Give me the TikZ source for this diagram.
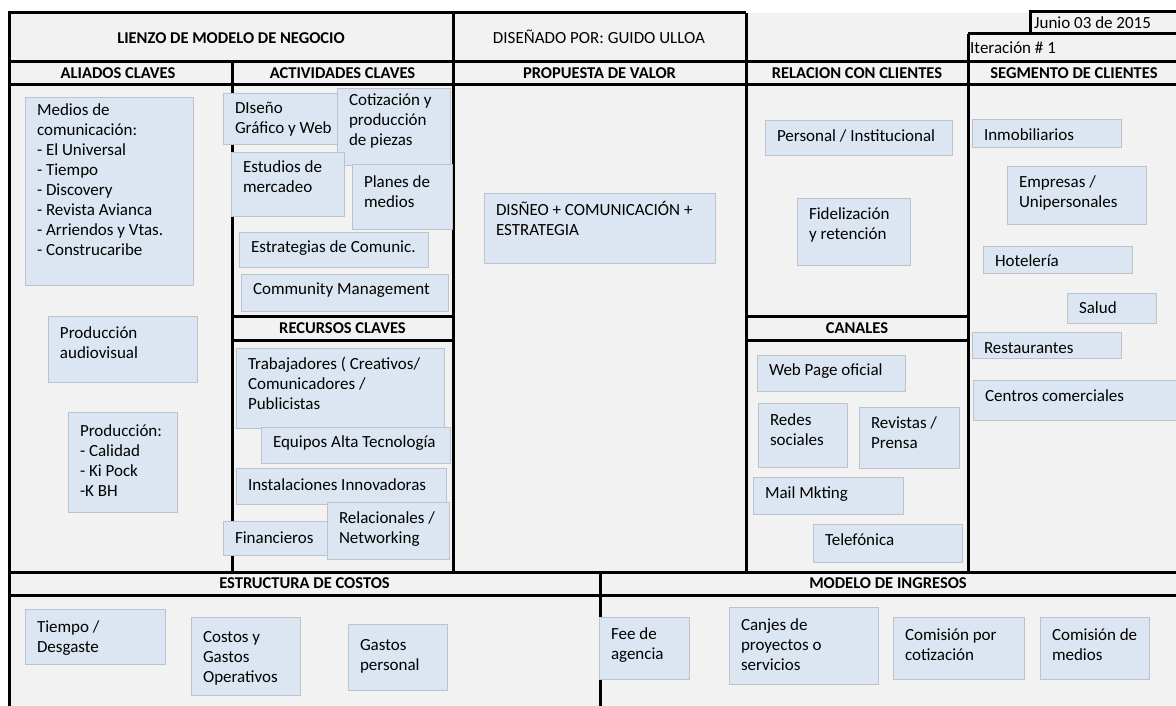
\documentclass[tikz,border=0pt]{standalone}
\usepackage{fontspec}
\setmainfont{Carlito}
\usetikzlibrary{positioning}
\definecolor{cFrame}{HTML}{000000}
\definecolor{cCanvas}{HTML}{F2F2F2}
\definecolor{cCard}{HTML}{DCE6F2}
\definecolor{cCardLine}{HTML}{BCC3CC}
% card text: [top gap]{width}{height}{lines}
\newcommand{\cardtxt}[4][7.5pt]{\parbox[t][#3][t]{#2}{\vspace*{#1}\raggedright\leftskip=11.5pt\rule{0pt}{14pt}#4}}

\begin{document}
\begin{tikzpicture}[x=1pt,y=-1pt,font=\fontsize{17}{20}\selectfont,
  frame/.style={line width=3pt,cFrame},
  card/.style={draw=cCardLine,fill=cCard,line width=1pt,anchor=north west,inner sep=0pt},
  head/.style={font=\fontsize{16.5}{20}\selectfont\bfseries,inner sep=0pt,text height=10.6pt,text depth=0pt},
  note/.style={inner sep=0pt,text height=10.6pt,text depth=0pt}]

\useasboundingbox (0,0) rectangle (1176,706);
\fill[cCanvas] (9,13) rectangle (1176,706);

% frame
\draw[frame] (746,13) -- (9,13) -- (9,712);
\draw[frame] (9,62) -- (1180,62);
\draw[frame] (9,85) -- (1180,85);
\draw[frame] (232,62) -- (232,572);
\draw[frame] (453,13) -- (453,572);
\draw[frame] (746,13) -- (746,572);
\draw[frame] (968,34) -- (968,572);
\draw[frame] (968,34) -- (1180,34);
\draw[frame] (1030,34) -- (1030,12) -- (1180,12);
\draw[frame] (232,316) -- (453,316);
\draw[frame] (232,340) -- (453,340);
\draw[frame] (746,316) -- (968,316);
\draw[frame] (746,340) -- (968,340);
\draw[frame] (9,572) -- (1180,572);
\draw[frame] (9,595) -- (1180,595);
\draw[frame] (600,572) -- (600,712);

% headings
\node[head] (title) at (231,38) {LIENZO DE MODELO DE NEGOCIO};
\node[note] (author) at (599,38) {DISEÑADO POR: GUIDO ULLOA};
\node[note,anchor=west] (fecha) at (1034,23) {Junio 03 de 2015};
\node[note,anchor=west] (iter) at (970,48) {Iteración \# 1};
\node[head] (hAli) at (118,73.5) {ALIADOS CLAVES};
\node[head] (hAct) at (342.5,73.5) {ACTIVIDADES CLAVES};
\node[head] (hVal) at (599.5,73.5) {PROPUESTA DE VALOR};
\node[head] (hRel) at (857,73.5) {RELACION CON CLIENTES};
\node[head] (hSeg) at (1074,73.5) {SEGMENTO DE CLIENTES};
\node[head] (hRec) at (342.5,328) {RECURSOS CLAVES};
\node[head] (hCan) at (857,328) {CANALES};
\node[head] (hCos) at (304.5,583.5) {ESTRUCTURA DE COSTOS};
\node[head] (hIng) at (888,583.5) {MODELO DE INGRESOS};

% aliados
\node[card] (medios) at (25,97) {\cardtxt[4pt]{168pt}{188pt}{Medios de\\comunicación:\\- El Universal\\- Tiempo\\- Discovery\\- Revista Avianca\\- Arriendos y Vtas.\\- Construcaribe}};
\node[card] (audiov) at (48,316) {\cardtxt[8.3pt]{149pt}{66pt}{Producción\\audiovisual}};
\node[card] (produc) at (68,412) {\cardtxt[9.7pt]{109pt}{100pt}{Producción:\\- Calidad\\- Ki Pock\\-K BH}};

% actividades
\node[card] (diseno) at (223,93) {\cardtxt[6.3pt]{115pt}{51pt}{DIseño\\Gráfico y Web}};
\node[card] (cotiz) at (337,88) {\cardtxt[3.3pt]{113pt}{77pt}{Cotización y\\producción\\de piezas}};
\node[card] (estud) at (231,152) {\cardtxt[6pt]{113pt}{64pt}{Estudios de\\mercadeo}};
\node[card] (planes) at (352,164) {\cardtxt[9pt]{100pt}{65pt}{Planes de\\medios}};
\node[card] (estrat) at (239,232) {\cardtxt[6.3pt]{189pt}{35pt}{Estrategias de Comunic.}};
\node[card] (commun) at (241,274) {\cardtxt[6.3pt]{207pt}{37pt}{Community Management}};

% recursos
\node[card] (trab) at (236,348) {\cardtxt[7.3pt]{208pt}{80pt}{Trabajadores ( Creativos/\\Comunicadores /\\Publicistas}};
\node[card] (equip) at (261,427) {\cardtxt[6.3pt]{189pt}{36pt}{Equipos Alta Tecnología}};
\node[card] (instal) at (236,468) {\cardtxt[8.3pt]{210pt}{36pt}{Instalaciones Innovadoras}};
\node[card] (finan) at (223,521) {\cardtxt[8pt]{105pt}{34pt}{Financieros}};
\node[card] (relac) at (327,502) {\cardtxt[7.3pt]{122pt}{57pt}{Relacionales /\\Networking}};

% propuesta de valor
\node[card] (valor) at (484,193) {\cardtxt[8.3pt]{231pt}{70pt}{DISÑEO + COMUNICACIÓN +\\ESTRATEGIA}};

% relacion
\node[card] (person) at (765,120) {\cardtxt[7pt]{187pt}{35pt}{Personal / Institucional}};
\node[card] (fideli) at (797,198) {\cardtxt[7.3pt]{113pt}{67pt}{Fidelización\\y retención}};

% canales
\node[card] (web) at (757,355) {\cardtxt[6.3pt]{148pt}{36pt}{Web Page oficial}};
\node[card] (redes) at (758,403) {\cardtxt[8.3pt]{89pt}{64pt}{Redes\\sociales}};
\node[card] (revis) at (859,407) {\cardtxt[7.3pt]{100pt}{61pt}{Revistas /\\Prensa}};
\node[card] (mail) at (753,477) {\cardtxt[7.3pt]{150pt}{37pt}{Mail Mkting}};
\node[card] (telef) at (813,524) {\cardtxt[7.3pt]{149pt}{38pt}{Telefónica}};

% segmentos
\node[card] (inmob) at (972,119) {\cardtxt[7.3pt]{149pt}{28pt}{Inmobiliarios}};
\node[card] (empre) at (1007,166) {\cardtxt[7pt]{139pt}{58pt}{Empresas /\\Unipersonales}};
\node[card] (hotel) at (983,246) {\cardtxt[6.3pt]{149pt}{27pt}{Hotelería}};
\node[card] (salud) at (1067,293) {\cardtxt[6pt]{89pt}{30pt}{Salud}};
\node[card] (resta) at (972,332) {\cardtxt[7pt]{149pt}{26pt}{Restaurantes}};
\node[card] (centro) at (973,380) {\cardtxt[7pt]{215pt}{40pt}{Centros comerciales}};

% costos
\node[card] (tiempo) at (25,609) {\cardtxt[9pt]{140pt}{55pt}{Tiempo /\\Desgaste}};
\node[card] (costos) at (191,617) {\cardtxt[11pt]{109pt}{78pt}{Costos y\\Gastos\\Operativos}};
\node[card] (gastos) at (348,624) {\cardtxt[12.3pt]{99pt}{66pt}{Gastos\\personal}};

% ingresos
\node[card] (fee) at (599,617) {\cardtxt[8.3pt]{90pt}{62pt}{Fee de\\agencia}};
\node[card] (canjes) at (729,607) {\cardtxt[9.3pt]{149pt}{77pt}{Canjes de\\proyectos o\\servicios}};
\node[card] (comcot) at (893,617) {\cardtxt[9.3pt]{131pt}{62pt}{Comisión por\\cotización}};
\node[card] (commed) at (1040,617) {\cardtxt[9.3pt]{109pt}{62pt}{Comisión de\\medios}};
\end{tikzpicture}
\end{document}
